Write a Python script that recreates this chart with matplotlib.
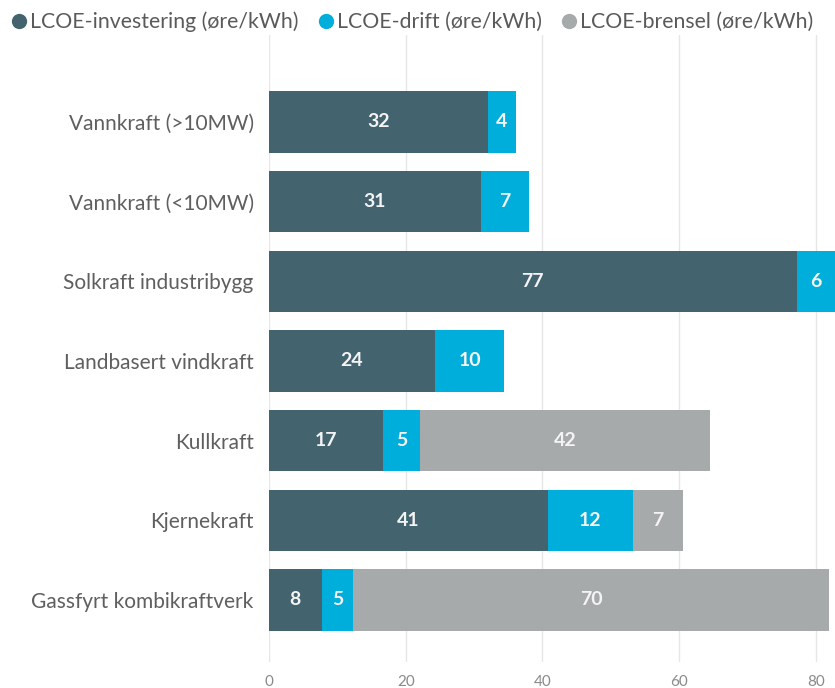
import matplotlib
matplotlib.use("Agg")
import matplotlib.pyplot as plt
from matplotlib.lines import Line2D

plt.rcParams['font.family'] = ['Lato', 'DejaVu Sans']

categories = ["Vannkraft (>10MW)", "Vannkraft (<10MW)", "Solkraft industribygg",
              "Landbasert vindkraft", "Kullkraft", "Kjernekraft", "Gassfyrt kombikraftverk"]
investering = [32.0, 31.0, 77.2, 24.3, 16.7, 40.8, 7.7]
drift = [4.1, 7.0, 5.6, 10.1, 5.4, 12.4, 4.6]
brensel = [0, 0, 0, 0, 42.4, 7.4, 69.6]
series_names = ["LCOE-investering (øre/kWh)", "LCOE-drift (øre/kWh)", "LCOE-brensel (øre/kWh)"]
colors = ["#43636f", "#00aedb", "#a7aaaa"]
xticks = [0, 20, 40, 60, 80]

fig = plt.figure(figsize=(8.35, 6.88), dpi=100)
ax = fig.add_axes([269/835, 1-662/688, 1-269/835, (662-35)/688])

y = list(range(len(categories)))
left = [0]*len(categories)
for vals, col in zip([investering, drift, brensel], colors):
    ax.barh(y, vals, left=left, height=0.77, color=col, edgecolor='none', zorder=2)
    for i, v in enumerate(vals):
        if v > 0:
            ax.text(left[i] + v/2, i, f"{round(v):d}", ha='center', va='center',
                    color='#f4f4f4', fontsize=14, fontweight='bold', zorder=3)
    left = [l + v for l, v in zip(left, vals)]

ax.set_xlim(0, 82.8)
ax.set_ylim(6.78, -1.09)
ax.set_yticks(y)
ax.set_yticklabels(categories, fontsize=15, color='#5f5f5f')
ax.set_xticks(xticks)
ax.set_xticklabels([str(t) for t in xticks], fontsize=11, color='#8a8a8a')
ax.tick_params(axis='both', length=0)
ax.tick_params(axis='y', pad=11)
ax.tick_params(axis='x', pad=9)
ax.grid(axis='x', color='#e6e6e6', linewidth=1, zorder=0)
for s in ax.spines.values():
    s.set_visible(False)

handles = [Line2D([0], [0], marker='o', linestyle='none', markersize=11,
                  markerfacecolor=c, markeredgecolor='none') for c in colors]
fig.legend(handles, series_names, loc='upper left', bbox_to_anchor=(-0.01, 1.005),
           ncol=3, frameon=False, fontsize=15.3, handletextpad=-0.1, handlelength=1.2,
           columnspacing=0.7, borderaxespad=0.3, labelcolor='#5a5a5a')

fig.savefig("out.png", dpi=100)
